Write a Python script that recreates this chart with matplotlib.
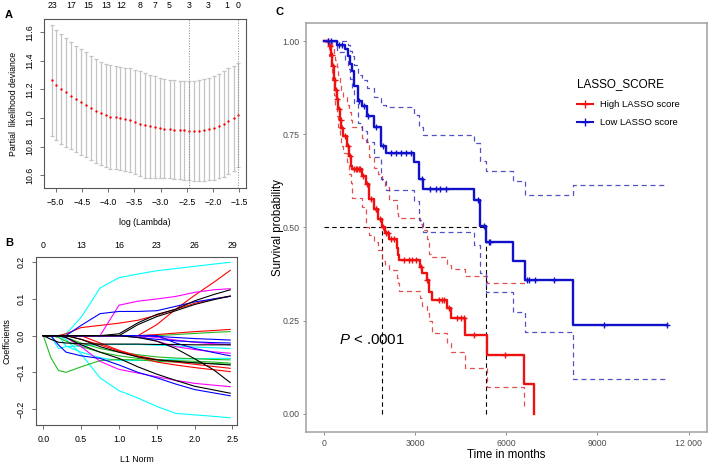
import matplotlib
matplotlib.use("Agg")
import matplotlib.pyplot as plt
from matplotlib.lines import Line2D
import numpy as np

plt.rcParams['font.family'] = ['Liberation Sans', 'DejaVu Sans']
plt.rcParams['mathtext.fontset'] = 'custom'
plt.rcParams['mathtext.it'] = 'Liberation Sans:italic'
plt.rcParams['mathtext.rm'] = 'Liberation Sans'

# ---- panel A: cross-validation curve ----
log_lambda = [-5.08, -4.99, -4.89, -4.80, -4.71, -4.61, -4.52, -4.43, -4.33, -4.24,
              -4.14, -4.05, -3.96, -3.86, -3.77, -3.68, -3.58, -3.49, -3.39, -3.30,
              -3.21, -3.11, -3.02, -2.93, -2.83, -2.74, -2.64, -2.55, -2.46, -2.36,
              -2.27, -2.18, -2.08, -1.99, -1.89, -1.80, -1.71, -1.61, -1.52]
cv_mean = [11.263, 11.233, 11.205, 11.179, 11.156, 11.135, 11.114, 11.093, 11.070, 11.051,
           11.033, 11.019, 11.009, 11.005, 10.998, 10.991, 10.984, 10.972, 10.960, 10.949,
           10.942, 10.935, 10.930, 10.926, 10.923, 10.919, 10.916, 10.914, 10.912, 10.912,
           10.912, 10.916, 10.923, 10.933, 10.944, 10.960, 10.979, 11.000, 11.023]
cv_se = [0.388, 0.383, 0.383, 0.379, 0.374, 0.372, 0.370, 0.367, 0.365, 0.363,
         0.362, 0.360, 0.361, 0.360, 0.362, 0.362, 0.363, 0.365, 0.366, 0.365,
         0.360, 0.356, 0.349, 0.346, 0.344, 0.344, 0.344, 0.344, 0.346, 0.348,
         0.353, 0.356, 0.358, 0.362, 0.365, 0.370, 0.372, 0.367, 0.361]
lambda_min, lambda_1se = -2.46, -1.52
top_a_pos = [-5.07, -4.71, -4.38, -4.04, -3.75, -3.39, -3.10, -2.84, -2.46, -2.10, -1.73, -1.52]
top_a_lab = [23, 17, 15, 13, 12, 8, 7, 5, 3, 3, 1, 0]

# ---- panel B: coefficient paths ----
l1_knots = [0, 0.1, 0.2, 0.3, 0.5, 0.75, 1.0, 1.25, 1.5, 1.75, 2.0, 2.25, 2.47]
paths = [
    ('cyan',    [0, 0, 0, 0.005, 0.05, 0.13, 0.158, 0.168, 0.177, 0.183, 0.189, 0.195, 0.2]),
    ('cyan',    [0, 0, 0, -0.01, -0.05, -0.115, -0.15, -0.17, -0.193, -0.212, -0.216, -0.22, -0.224]),
    ('cyan',    [0, 0, -0.035, -0.03, -0.028, -0.025, -0.024, -0.024, -0.026, -0.028, -0.031, -0.033, -0.035]),
    ('cyan',    [0, 0, 0, -0.028, -0.045, -0.06, -0.068, -0.068, -0.066, -0.064, -0.063, -0.062, -0.062]),
    ('#22bb22', [0, -0.06, -0.095, -0.1, -0.085, -0.068, -0.065, -0.066, -0.07, -0.072, -0.074, -0.076, -0.078]),
    ('#22bb22', [0, 0, 0, 0, 0, 0, 0, 0, 0, 0.003, 0.006, 0.009, 0.011]),
    ('#22bb22', [0, 0, -0.005, -0.015, -0.03, -0.045, -0.055, -0.062, -0.066, -0.068, -0.07, -0.072, -0.075]),
    ('#22bb22', [0, 0, 0, -0.005, -0.02, -0.035, -0.045, -0.052, -0.058, -0.061, -0.063, -0.065, -0.066]),
    ('red',     [0, 0, 0, 0, 0, 0, 0, 0, 0.03, 0.072, 0.11, 0.145, 0.178]),
    ('red',     [0, 0, 0, 0.005, 0.022, 0.028, 0.034, 0.042, 0.056, 0.072, 0.088, 0.1, 0.108]),
    ('red',     [0, 0, 0, 0, 0, 0, 0, 0, 0.003, 0.007, 0.011, 0.014, 0.017]),
    ('red',     [0, 0, 0, 0, -0.01, -0.025, -0.042, -0.058, -0.072, -0.08, -0.087, -0.093, -0.098]),
    ('red',     [0, 0, 0, 0, 0, -0.02, -0.04, -0.055, -0.065, -0.072, -0.078, -0.084, -0.089]),
    ('magenta', [0, 0, 0, 0, 0, 0, 0.083, 0.094, 0.1, 0.107, 0.118, 0.125, 0.128]),
    ('magenta', [0, 0, 0, -0.005, -0.03, -0.07, -0.092, -0.102, -0.112, -0.122, -0.13, -0.135, -0.139]),
    ('magenta', [0, 0, 0, 0, 0, 0, 0, 0, -0.005, -0.012, -0.018, -0.022, -0.025]),
    ('magenta', [0, 0, 0, 0, 0, 0, 0, 0, -0.015, -0.03, -0.038, -0.044, -0.048]),
    ('blue',    [0, 0, 0, 0, 0.028, 0.06, 0.066, 0.066, 0.068, 0.08, 0.092, 0.1, 0.107]),
    ('blue',    [0, 0, 0, 0, 0, 0, 0, 0, -0.002, -0.005, -0.008, -0.01, -0.012]),
    ('blue',    [0, 0, -0.025, -0.045, -0.055, -0.062, -0.08, -0.1, -0.115, -0.132, -0.147, -0.156, -0.164]),
    ('blue',    [0, 0, 0, 0, 0, 0, 0, 0, 0, -0.02, -0.035, -0.046, -0.055]),
    ('blue',    [0, 0, 0, 0, 0, 0, 0, -0.005, -0.01, -0.014, -0.017, -0.019, -0.02]),
    ('black',   [0, 0, 0, 0, 0, 0, 0.005, 0.035, 0.058, 0.072, 0.095, 0.112, 0.125]),
    ('black',   [0, 0, 0, 0, 0, 0, 0, 0.03, 0.052, 0.068, 0.085, 0.098, 0.108]),
    ('black',   [0, 0, 0, 0, 0, 0, 0, -0.005, -0.015, -0.035, -0.063, -0.093, -0.128]),
    ('black',   [0, -0.01, -0.018, -0.02, -0.022, -0.023, -0.023, -0.023, -0.024, -0.024, -0.025, -0.025, -0.025]),
    ('black',   [0, 0, 0, -0.005, -0.025, -0.045, -0.062, -0.085, -0.105, -0.122, -0.138, -0.148, -0.157]),
    ('black',   [0, 0, 0, 0, -0.01, -0.03, -0.045, -0.058, -0.066, -0.07, -0.074, -0.077, -0.08]),
]
top_b_pos = [0, 0.5, 1.0, 1.5, 2.0, 2.5]
top_b_lab = [0, 13, 16, 23, 26, 29]

# ---- panel C: Kaplan-Meier ----
high_t = [0, 150, 219, 274, 329, 362, 416, 471, 515, 570, 636, 745, 822, 877, 932, 1260, 1370,
          1480, 1644, 1780, 1896, 2000, 2137, 2389, 2444, 2466, 3157, 3235, 3400, 3452, 3564,
          4057, 4166, 4659, 5372, 6598, 6905]
high_s = [1.0, 0.987, 0.964, 0.933, 0.897, 0.87, 0.844, 0.817, 0.79, 0.768, 0.746, 0.72, 0.692,
          0.665, 0.656, 0.638, 0.616, 0.576, 0.549, 0.522, 0.50, 0.484, 0.47, 0.444, 0.426, 0.412,
          0.395, 0.378, 0.36, 0.328, 0.306, 0.284, 0.257, 0.212, 0.158, 0.079, 0.0]
high_lo = [1.0, 0.96, 0.93, 0.895, 0.855, 0.83, 0.80, 0.77, 0.745, 0.72, 0.70, 0.675, 0.645,
           0.62, 0.58, 0.555, 0.50, 0.48, 0.46, 0.44, 0.41, 0.40, 0.385, 0.365, 0.35, 0.33,
           0.31, 0.29, 0.27, 0.25, 0.218, 0.19, 0.165, 0.123, 0.073, 0.02]
high_hi = [1.0, 1.0, 1.0, 0.985, 0.965, 0.95, 0.93, 0.91, 0.89, 0.87, 0.85, 0.83, 0.81,
           0.79, 0.77, 0.74, 0.73, 0.69, 0.66, 0.645, 0.628, 0.61, 0.575, 0.54, 0.53, 0.525,
           0.51, 0.493, 0.47, 0.43, 0.42, 0.40, 0.388, 0.37, 0.352, 0.352]
high_ci_end = 6640
high_cens = [120, 200, 260, 310, 350, 400, 440, 500, 560, 610, 700, 780, 850, 980, 1050, 1100,
             1150, 1200, 1300, 1420, 1550, 1700, 1720, 1850, 1950, 2050, 2100, 2200, 2300, 2630,
             2795, 2906, 3015, 3180, 3400, 3781, 3893, 3946, 4110, 4386, 4495, 4603, 4932, 5975]

low_t = [0, 438, 680, 789, 855, 932, 986, 1118, 1260, 1425, 1644, 1885, 2028, 2959, 3145, 3255,
         4954, 5151, 5348, 6225, 6631, 8198]
low_s = [1.0, 0.991, 0.978, 0.96, 0.94, 0.92, 0.88, 0.84, 0.826, 0.80, 0.77, 0.72, 0.70, 0.677,
         0.63, 0.604, 0.574, 0.504, 0.462, 0.41, 0.359, 0.237]
low_lo = [1.0, 0.97, 0.95, 0.925, 0.9, 0.875, 0.835, 0.78, 0.76, 0.73, 0.69, 0.63, 0.601, 0.572,
          0.52, 0.488, 0.453, 0.377, 0.328, 0.274, 0.22, 0.093]
low_hi = [1.0, 1.0, 1.0, 0.99, 0.975, 0.96, 0.937, 0.91, 0.895, 0.875, 0.85, 0.83, 0.824, 0.803,
          0.77, 0.749, 0.727, 0.678, 0.651, 0.624, 0.586, 0.613]
low_end = 11289
low_cens = [132, 219, 493, 603, 1151, 1315, 1458, 1699, 1940, 2192, 2356, 2521, 2685, 2850, 3233,
            3507, 3672, 3836, 4033, 5063, 5260, 5425, 5480, 6686, 6762, 6937, 7562, 9206, 11289]
median_high, median_low = 1920, 5340

fig = plt.figure(figsize=(7.09, 4.63), dpi=100)

# ================= A =================
axA = fig.add_axes([0.0621, 0.5933, 0.2849, 0.365])
axA.errorbar(log_lambda, cv_mean, yerr=cv_se, fmt='none', ecolor='#c4c4c4',
             elinewidth=0.9, capsize=1.6, capthick=0.9)
axA.plot(log_lambda, cv_mean, 'o', color='red', ms=1.7, mew=0)
for v in (lambda_min, lambda_1se):
    axA.axvline(v, color='#888888', ls=':', lw=0.7)
axA.set_xlim(-5.223, -1.372)
axA.set_ylim(10.51, 11.69)
axA.set_xticks(np.arange(-5.0, -1.49, 0.5))
axA.set_xticklabels([f"{v:.1f}".replace('-', '\u2212') for v in np.arange(-5.0, -1.49, 0.5)])
axA.set_yticks([10.6, 10.8, 11.0, 11.2, 11.4, 11.6])
axA.set_yticklabels(['10.6', '10.8', '11.0', '11.2', '11.4', '11.6'])
axA.set_xlabel('log (Lambda)', fontsize=6.3, labelpad=8)
axA.set_ylabel('Partial  likelihood deviance', fontsize=6.3, labelpad=5)
for lab, pos in zip(top_a_lab, top_a_pos):
    axA.text(pos, 1.055, str(lab), transform=axA.get_xaxis_transform(),
             ha='center', va='bottom', fontsize=6.3)

# ================= B =================
axB = fig.add_axes([0.0504, 0.0821, 0.2839, 0.3622])
for col, vals in paths:
    axB.plot(l1_knots, vals, color=col, lw=0.8)
axB.set_xlim(-0.1, 2.56)
axB.set_ylim(-0.2436, 0.2137)
axB.set_xticks([0, 0.5, 1.0, 1.5, 2.0, 2.5])
axB.set_xticklabels(['0.0', '0.5', '1.0', '1.5', '2.0', '2.5'])
axB.set_yticks([-0.2, -0.1, 0.0, 0.1, 0.2])
axB.set_yticklabels(['\u22120.2', '\u22120.1', '0.0', '0.1', '0.2'])
axB.set_xlabel('L1 Norm', fontsize=6.3, labelpad=8)
axB.set_ylabel('Coefficients', fontsize=6.3, labelpad=4)
for lab, pos in zip(top_b_lab, top_b_pos):
    axB.text(pos, 1.045, str(lab), transform=axB.get_xaxis_transform(),
             ha='center', va='bottom', fontsize=6.3)

for ax in (axA, axB):
    for sp in ax.spines.values():
        sp.set_color('#555555')
        sp.set_linewidth(0.8)
    ax.tick_params(axis='both', labelsize=6.3, length=3, width=0.6, color='#555555', pad=4)
    ax.tick_params(axis='y', labelrotation=90)
    for lbl in ax.get_yticklabels():
        lbl.set_va('center')

# ================= C =================
axC = fig.add_axes([0.4312, 0.0663, 0.5656, 0.8847])


def surv_at(times, t, s):
    idx = np.searchsorted(t, times, side='right') - 1
    return np.asarray(s)[idx]


# median lines
axC.plot([0, median_low], [0.5, 0.5], color='black', ls=(0, (4, 3)), lw=0.8)
axC.plot([median_high, median_high], [0, 0.5], color='black', ls=(0, (4, 3)), lw=0.8)
axC.plot([median_low, median_low], [0, 0.5], color='black', ls=(0, (4, 3)), lw=0.8)

# confidence bands
axC.step(high_t[:len(high_lo)] + [high_ci_end], high_lo + [high_lo[-1]], where='post',
         color='#dd3333', ls=(0, (4, 3)), lw=0.9, alpha=0.85)
axC.step(high_t[:len(high_hi)] + [high_ci_end], high_hi + [high_hi[-1]], where='post',
         color='#dd3333', ls=(0, (4, 3)), lw=0.9, alpha=0.85)
axC.step(low_t + [low_end], low_lo + [low_lo[-1]], where='post',
         color='#3333bb', ls=(0, (4, 3)), lw=0.9, alpha=0.85)
axC.step(low_t + [low_end], low_hi + [low_hi[-1]], where='post',
         color='#3333bb', ls=(0, (4, 3)), lw=0.9, alpha=0.85)

# survival curves
axC.step(high_t, high_s, where='post', color='#ee1111', lw=1.7)
axC.step(low_t + [low_end], low_s + [low_s[-1]], where='post', color='#1111cc', lw=1.7)
axC.plot(high_cens, surv_at(high_cens, high_t, high_s), '+', color='#ee1111', ms=5, mew=1)
axC.plot(low_cens, surv_at(low_cens, low_t, low_s), '+', color='#1111cc', ms=5, mew=1)

axC.text(480, 0.199, r'$\mathit{P}$ < .0001', fontsize=10.8, ha='left', va='center')

axC.set_xlim(-600, 12600)
axC.set_ylim(-0.05, 1.05)
axC.set_xticks([0, 3000, 6000, 9000, 12000])
axC.set_xticklabels(['0', '3000', '6000', '9000', '12 000'])
axC.set_yticks([0, 0.25, 0.5, 0.75, 1.0])
axC.set_yticklabels(['0.00', '0.25', '0.50', '0.75', '1.00'])
axC.tick_params(axis='both', labelsize=6.3, length=2.5, width=0.6, color='#777777',
                labelcolor='#4d4d4d', pad=2)
for sp in axC.spines.values():
    sp.set_color('#a0a0a0')
    sp.set_linewidth(1.1)
axC.set_xlabel('Time in months', fontsize=8.3, labelpad=1)
axC.set_ylabel('Survival probability', fontsize=8.3, labelpad=-1)

handles = [Line2D([0], [0], color='#ee1111', lw=1.5, marker='+', ms=6, mew=1),
           Line2D([0], [0], color='#1111cc', lw=1.5, marker='+', ms=6, mew=1)]
leg = axC.legend(handles, ['High LASSO score', 'Low LASSO score'], title='LASSO_SCORE',
                 loc='upper left', bbox_to_anchor=(0.655, 0.885), frameon=False,
                 fontsize=6.8, title_fontsize=8.5, handlelength=1.7, handletextpad=0.8,
                 labelspacing=1.0)
leg._legend_box.align = 'left'
leg._legend_box.sep = 7

# panel letters
fig.text(5 / 709, 1 - 15 / 463, 'A', fontsize=8, fontweight='bold', va='center')
fig.text(5 / 709, 1 - 243 / 463, 'B', fontsize=8, fontweight='bold', va='center')
fig.text(275 / 709, 1 - 12 / 463, 'C', fontsize=8, fontweight='bold', va='center')

fig.savefig('out.png', dpi=100)
